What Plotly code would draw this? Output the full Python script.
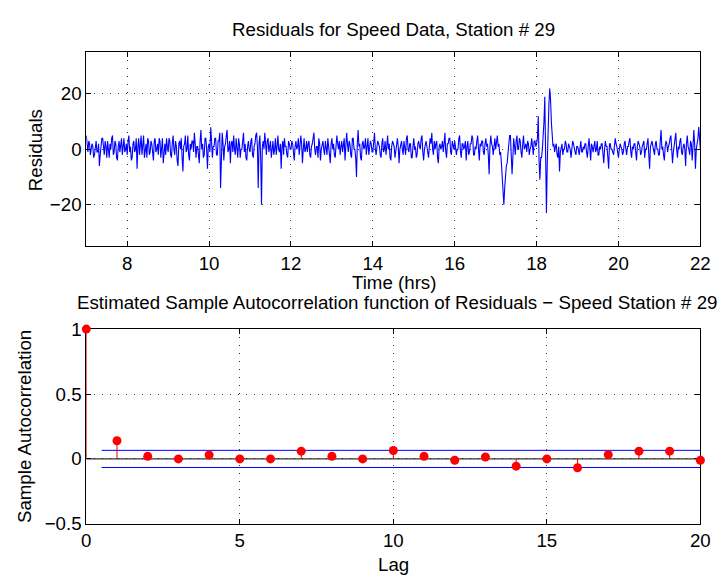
import plotly.graph_objects as go

# ---------------- data ----------------
# residuals, one row per hour (7h ... 21h), samples evenly spread in the hour
hours = list(range(7, 22))
residual_rows = [
    [5, 1, -1, 3, 2, -2, 0, 2, 1, -3, -2, 1, 3, -1, -1, 2, -6, -2, 2, 4, 4, 0, -2, 3, 1,
     -3, 3, 0, -3, 2, 0, 4, 5, -2, -1, 3, 2, -3, -4, 1, 3, -1, 1, 4, -2, 1, 4, -1, 0, 2],
    [-2, 3, 5, -1, 1, -4, -3, 2, 3, -1, 0, 4, -7, 1, 4, -2, 2, 5, -2, 1, 5, -3, 1, 2, -3,
     4, 3, -2, -1, 3, 2, -1, -4, 3, 4, -1, 0, 2, -2, 4, 3, -3, 1, 4, -5, 0, 2, -2, 4, 1],
    [-1, 4, 3, -2, -3, 2, 5, 0, -2, 3, 1, -4, -6, 2, 3, 0, 4, -3, -8, 1, 2, 5, -1, 0, 5,
     -2, -4, 2, 0, 3, 3, -1, 6, 2, -3, 1, 1, -2, -5, 3, 7, 0, 2, -3, -2, 4, 4, 0, -7, 1],
    [2, -1, 8, 3, -3, 1, 1, 4, 4, -2, -2, 3, 3, 6, -14, -4, 6, 2, -4, 1, 2, 5, 7, -1, 0,
     3, -5, 2, 3, -1, 5, 0, -2, 4, 1, -3, 4, 2, -3, 0, 0, 5, 6, -1, 2, -3, -4, 1, 3, 0],
    [-1, 3, 4, -2, -3, 1, 2, 5, 6, 1, -14, 2, 5, -3, -20, 1, 3, 0, 6, 2, -2, 3, 4, -1, 1,
     3, -3, 0, 3, -2, 0, 4, -2, 1, 5, 0, -1, 2, -7, 1, 3, -2, 4, 1, 1, -2, -3, 3, 2, 0],
    [0, 3, 2, -1, -4, 1, 3, 0, 1, 4, -2, 1, 5, 2, -5, 0, 4, -1, 0, 3, -1, 2, 3, -2, -3,
     1, 2, 4, 6, 0, -2, 1, 1, -3, 4, 2, -4, 0, 2, 3, 0, -2, 3, 1, -2, 4, 1, -1, -5, 2],
    [4, 0, 2, -2, -3, 1, 5, 2, 0, 3, -2, 1, 3, -1, 1, 4, -4, 1, 6, 2, -1, 3, 2, -2, -3,
     4, 4, 0, 0, -3, -10, 2, 7, 1, 2, -3, -4, 2, 3, 0, 1, 4, -2, 1, 4, -2, 0, 3, 2, -1],
    [-1, 3, 6, 0, -2, 1, 3, 2, 1, -2, -3, 2, 4, -1, 0, 3, -2, 1, 5, 0, 2, -3, -4, 1, 3,
     2, 1, -3, -1, 2, 4, 1, -5, 0, 2, 3, 0, -2, 3, 1, -2, 4, 5, 0, -1, 2, 2, -3, -3, 1],
    [4, 0, 1, -3, -2, 2, 3, 1, 0, 4, 5, -1, -4, 0, 2, 3, 1, -2, -3, 1, 4, 2, 6, 0, -2,
     3, 0, 2, 3, -3, -5, 1, 2, 0, 1, 3, -1, 2, 6, -1, -3, 2, 2, 4, 4, -1, -2, 3, 1, 0],
    [3, 1, -2, 0, 0, 4, 5, -1, -3, 2, 2, 0, 1, 3, -4, 1, 3, -2, -1, 2, 2, 5, 4, -2, -2,
     1, 0, 3, 5, 0, -4, 2, 1, 3, 3, -1, -2, 2, 4, 1, 2, -2, -9, 1, 5, 2, 1, -2, 3, 4],
    [0, 3, 5, 1, 2, -2, -1, -5, -12, -16, -20, -14, -9, -6, -5, -2, 3, 5, 5, 0, -9, -3, 4, 1, -2,
     3, 5, 0, 0, 4, 3, -1, -3, 2, 5, 0, 1, 2, -1, 3, 2, -2, 0, 1, 4, 0, -2, 3, 3, 1],
    [2, 4, 12, -4, -11, -3, -3, 0, 4, 10, 19, 2, -23, -5, 8, 16, 22, 18, 10, 3, 1, 2, -1, 1, 2,
     -2, -3, 1, -8, -1, 1, 2, -2, 0, 0, 3, 2, -1, -1, 2, 1, 0, -3, 1, 3, 2, 0, -1, -2, 1],
    [1, 0, -2, 2, 3, -1, -1, 1, 0, 2, 2, -1, -3, 1, 4, 0, -4, 2, 1, -1, 2, 3, -1, 0, 3,
     -2, -2, 1, 0, 2, 2, -1, -5, 0, 3, 1, 1, -3, -7, 2, 2, 0, 0, -1, -2, 1, 4, 2, 1, -1],
    [-3, 0, 2, 1, 0, -2, -1, 2, 3, 0, -2, 1, 1, 3, 4, -1, -3, 1, 0, 2, 2, -1, -4, 1, 3,
     2, 1, -2, -1, 1, 2, 3, -3, 0, 0, 2, 4, -2, -7, 1, 2, 3, 1, -1, -2, 2, 3, 0, 0, -2],
    [-2, 3, 7, 0, 1, -2, -4, 1, 3, 2, -1, 1, 2, 4, 5, 0, -5, -1, 1, 4, 6, 0, -3, 1, 0,
     3, 4, -1, -2, 1, 2, 0, -6, 2, 5, 1, 0, -2, 3, 2, -4, 1, 7, 2, -7, 0, 2, 4, 8, 3],
]
final_time, final_residual = 22.0, 0

times, residuals = [], []
for h, row in zip(hours, residual_rows):
    for i, v in enumerate(row):
        times.append(h + i / len(row))
        residuals.append(v)
times.append(final_time)
residuals.append(final_residual)

lags = list(range(21))
acf = [1.0, 0.14, 0.02, 0.0, 0.03, 0.0, 0.0, 0.06, 0.02, 0.0, 0.065,
       0.02, -0.01, 0.015, -0.056, 0.0, -0.068, 0.033, 0.06, 0.06, -0.01]
conf_bound = 0.066
bound_lags = [0.5, 20]

top_xticks = [8, 10, 12, 14, 16, 18, 20, 22]
top_yticks = [-20, 0, 20]
bot_xticks = [0, 5, 10, 15, 20]
bot_yticks = [-0.5, 0, 0.5, 1]

# ---------------- figure ----------------
W, H = 728, 584
FONT = "Liberation Sans, Arial, Helvetica, sans-serif"
FS = 18.7

def px_x(v):
    return v / W

def px_y(v):
    return 1 - v / H

fig = go.Figure()

fig.add_trace(go.Scatter(x=times, y=residuals, mode="lines",
                         line=dict(color="#0000ff", width=1.1),
                         xaxis="x", yaxis="y", showlegend=False, hoverinfo="skip"))

stem_x, stem_y = [], []
for l, v in zip(lags, acf):
    stem_x += [l, l, None]
    stem_y += [0, v, None]
fig.add_trace(go.Scatter(x=[0, 20], y=[0, 0], mode="lines",
                         line=dict(color="black", width=1),
                         xaxis="x2", yaxis="y2", showlegend=False, hoverinfo="skip"))
fig.add_trace(go.Scatter(x=bound_lags, y=[conf_bound, conf_bound], mode="lines",
                         line=dict(color="#0000ff", width=1),
                         xaxis="x2", yaxis="y2", showlegend=False, hoverinfo="skip"))
fig.add_trace(go.Scatter(x=bound_lags, y=[-conf_bound, -conf_bound], mode="lines",
                         line=dict(color="#0000ff", width=1),
                         xaxis="x2", yaxis="y2", showlegend=False, hoverinfo="skip"))
fig.add_trace(go.Scatter(x=stem_x, y=stem_y, mode="lines",
                         line=dict(color="#e00000", width=1),
                         xaxis="x2", yaxis="y2", showlegend=False, hoverinfo="skip",
                         cliponaxis=False))
fig.add_trace(go.Scatter(x=lags, y=acf, mode="markers",
                         marker=dict(color="#ff0000", size=9, line=dict(width=0)),
                         xaxis="x2", yaxis="y2", showlegend=False, hoverinfo="skip",
                         cliponaxis=False))

axis_common = dict(showline=True, linecolor="black", linewidth=1, mirror="ticks",
                   ticks="inside", ticklen=5, tickcolor="black",
                   showgrid=True, gridcolor="#333333", griddash="1px,7px", gridwidth=1,
                   zeroline=False, tickfont=dict(family=FONT, size=FS, color="black"))

fig.update_layout(
    width=W, height=H, autosize=False,
    margin=dict(l=0, r=0, t=0, b=0),
    paper_bgcolor="white", plot_bgcolor="white",
    font=dict(family=FONT, size=FS, color="black"),
    xaxis=dict(domain=[px_x(83), px_x(710)], range=[7, 22], tickvals=top_xticks,
               anchor="y", **axis_common),
    yaxis=dict(domain=[px_y(245), px_y(44)], range=[-35, 35], tickvals=top_yticks,
               anchor="x", **axis_common),
    xaxis2=dict(domain=[px_x(83), px_x(710)], range=[0, 20], tickvals=bot_xticks,
                anchor="y2", layer="below traces", **axis_common),
    yaxis2=dict(domain=[px_y(533), px_y(331)], range=[-0.5, 1], tickvals=bot_yticks,
                anchor="x2", layer="below traces", **axis_common),
)

annos = [
    ("Residuals for Speed Data, Station # 29", 397, 20, 0),
    ("Time (hrs)", 397, 283, 0),
    ("Estimated Sample Autocorrelation function of Residuals \u2212 Speed Station # 29", 400, 303, 0),
    ("Lag", 397, 575, 0),
    ("Residuals", 31, 145, -90),
    ("Sample Autocorrelation", 20, 432, -90),
]
for text, x, y, ang in annos:
    fig.add_annotation(text=text, x=px_x(x), y=px_y(y), xref="paper", yref="paper",
                       xanchor="center", yanchor="middle", showarrow=False,
                       textangle=ang, font=dict(family=FONT, size=FS, color="black"))

fig.write_html("out.html")
